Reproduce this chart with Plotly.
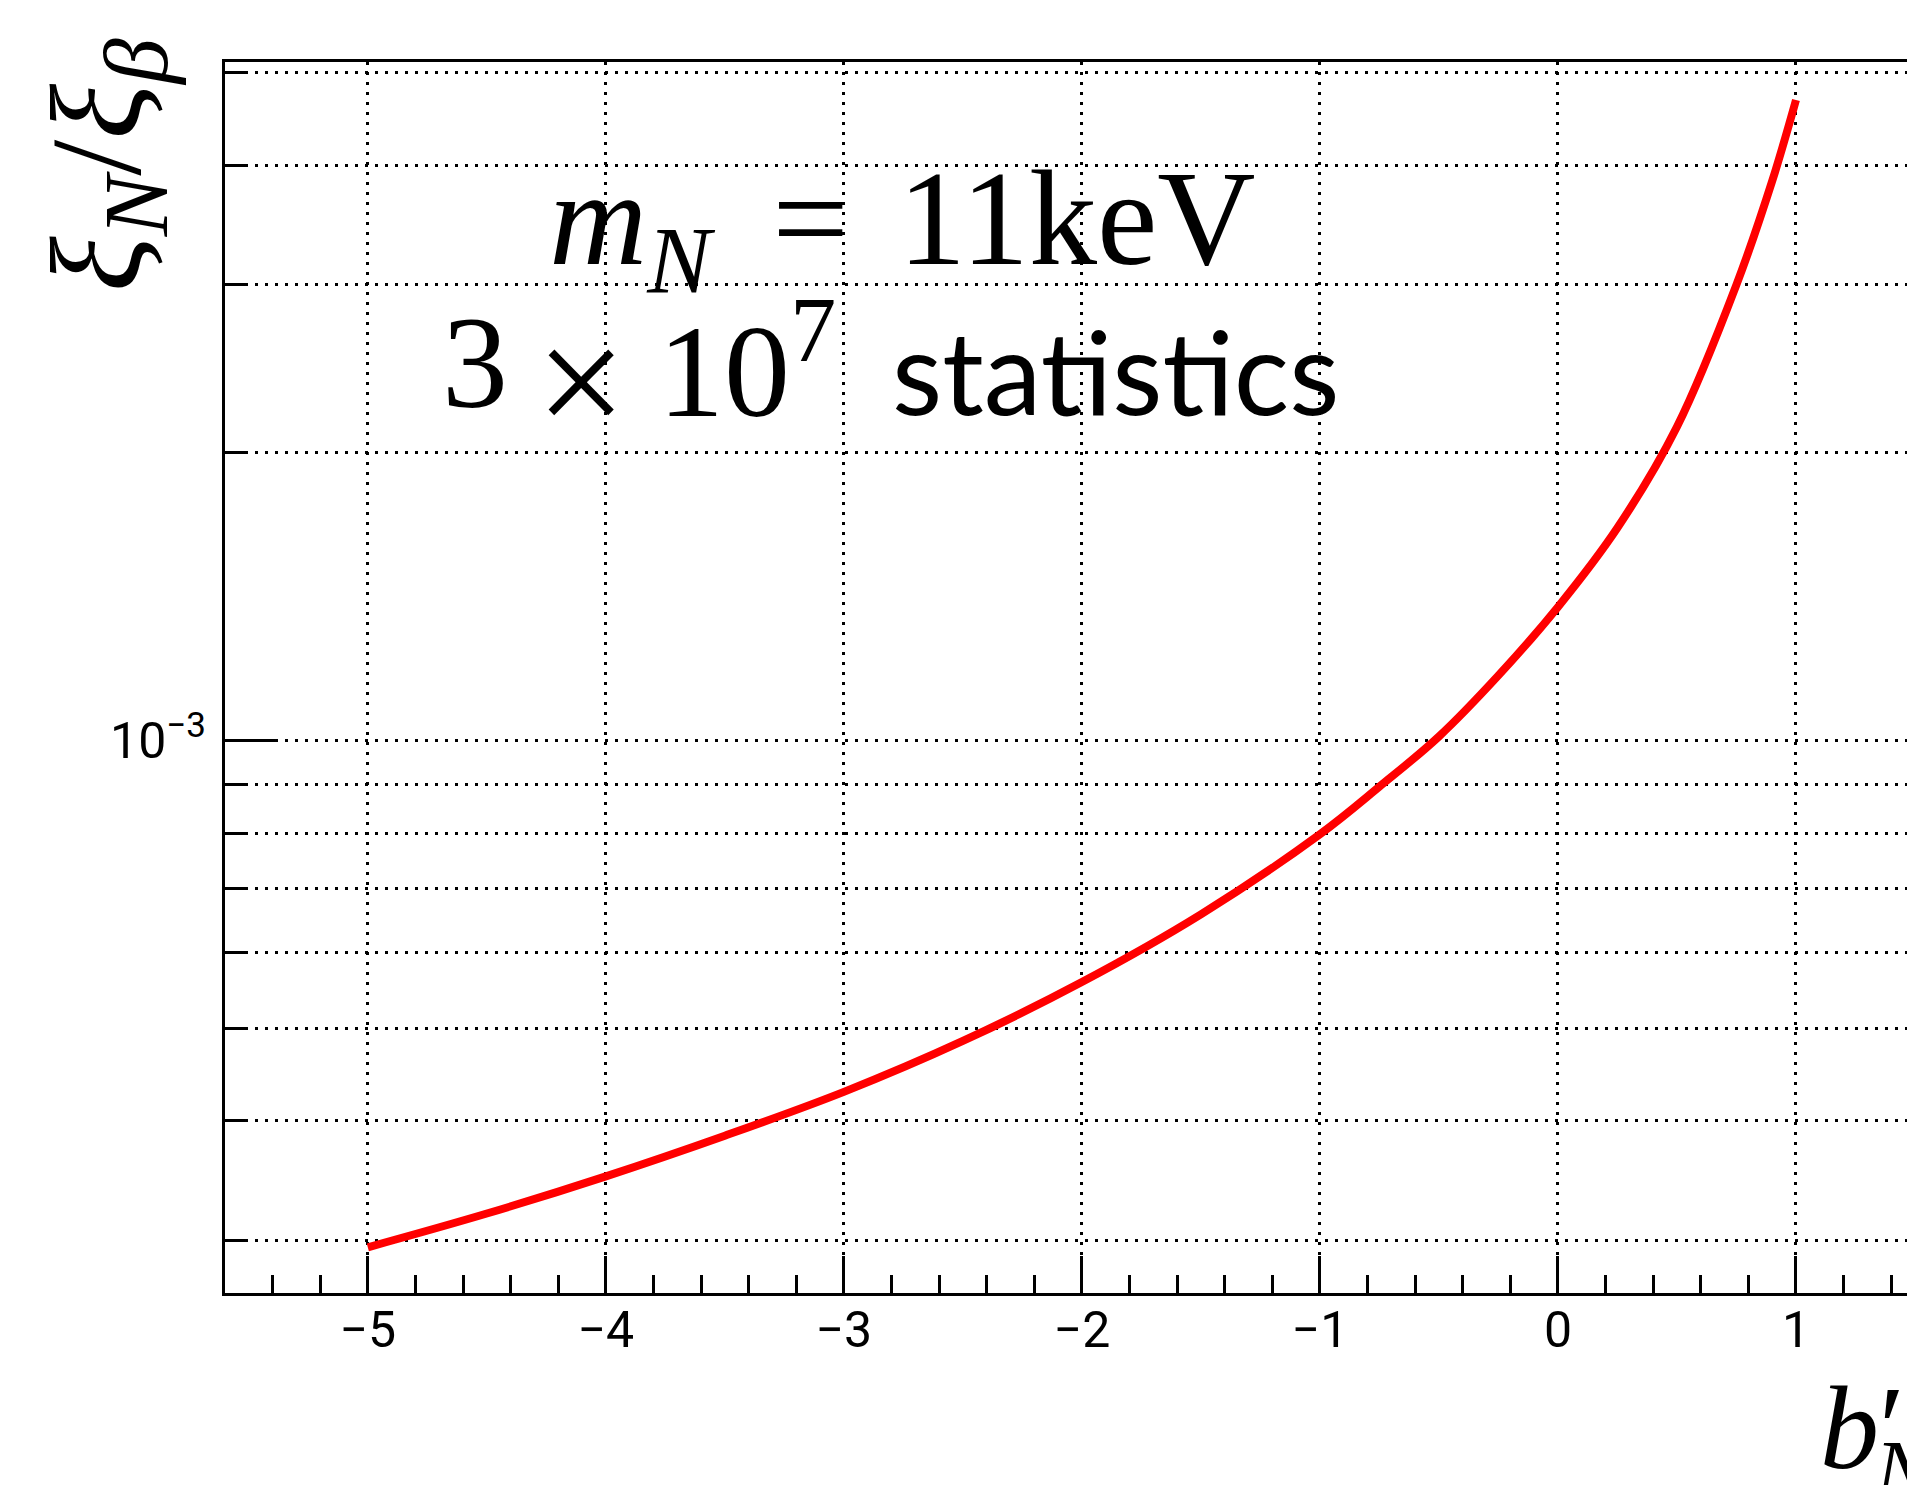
import plotly.graph_objects as go

# ---- data ----
b_prime = [-5.0, -4.5, -4.0, -3.5, -3.0, -2.5, -2.0, -1.5, -1.0, -0.75,
           -0.5, -0.25, 0.0, 0.25, 0.5, 0.75, 0.9, 1.0]
xi_ratio = [2.95e-4, 3.20e-4, 3.50e-4, 3.86e-4, 4.29e-4, 4.85e-4, 5.59e-4,
            6.58e-4, 7.98e-4, 8.95e-4, 1.01e-3, 1.17e-3, 1.38e-3, 1.67e-3,
            2.13e-3, 3.00e-3, 3.85e-3, 4.68e-3]

x_major_ticks = [-5, -4, -3, -2, -1, 0, 1]
y_major_ticks = [1e-3]
y_major_text = ["10<sup>\u22123</sup>"]
y_minor_ticks = [3e-4, 4e-4, 5e-4, 6e-4, 7e-4, 8e-4, 9e-4,
                 2e-3, 3e-3, 4e-3, 5e-3]

OFF = 8                      # default page (body) margin of the html page
PAGE_W, PAGE_H = 1915, 1485
W, H = PAGE_W - OFF, PAGE_H - OFF
PL, PT, PB = 225, 62, 1293   # plot-area edges in page pixels
L, T = PL - OFF, PT - OFF
R = 0
B = H - T - (PB - PT)
PW, PH = W - L - R, PB - PT


def fx(px):
    return (px - PL) / PW


def fy(py):
    return (PB - py) / PH


GRID = dict(gridcolor="black", gridwidth=2.5, griddash="3px,7px")

fig = go.Figure()
fig.add_trace(go.Scatter(
    x=b_prime, y=xi_ratio, mode="lines",
    line=dict(color="#ff0000", width=8, shape="spline"),
    showlegend=False, hoverinfo="skip",
))

fig.update_layout(
    width=W, height=H,
    margin=dict(l=L, r=R, t=T, b=B, pad=0),
    paper_bgcolor="white", plot_bgcolor="white",
    font=dict(family="Roboto, Liberation Sans, sans-serif", color="black", size=50),
    xaxis=dict(
        range=[-5.6, 1.5],
        tickmode="array", tickvals=x_major_ticks,
        ticks="inside", ticklen=37, tickwidth=2.5, tickcolor="black",
        showline=True, linecolor="black", linewidth=3, mirror=True,
        showgrid=True, **GRID,
        zeroline=False,
        tickfont=dict(size=50),
        ticklabelstandoff=-9,
        minor=dict(dtick=0.2, tick0=0, ticks="inside", ticklen=18,
                   tickwidth=2.5, tickcolor="black", showgrid=False),
    ),
    yaxis=dict(
        type="log",
        range=[-3.578, -2.290],
        tickmode="array", tickvals=y_major_ticks, ticktext=y_major_text,
        ticks="inside", ticklen=50, tickwidth=3, tickcolor="black",
        showline=True, linecolor="black", linewidth=3, mirror=False,
        showgrid=True, **GRID,
        zeroline=False,
        tickfont=dict(size=50),
        ticklabelstandoff=6,
        minor=dict(tickmode="array", tickvals=y_minor_ticks, ticks="inside",
                   ticklen=23, tickwidth=3, tickcolor="black",
                   showgrid=True, **GRID),
    ),
)

SERIF = "Liberation Serif, DejaVu Serif, serif"

annotations = [
    # y-axis title
    dict(text="<i>\u03be</i><sub><i>N</i></sub>/<i>\u03be</i><sub><i>\u03b2</i></sub>",
         x=fx(106), y=fy(165), textangle=-90,
         font=dict(family=SERIF, size=130)),
    # x-axis title (cut by the image edge)
    dict(text="<i>b</i>\u2032",
         x=fx(1818), y=fy(1428), xanchor="left",
         font=dict(family=SERIF, size=118)),
    dict(text="<i>N</i>",
         x=fx(1872), y=fy(1470), xanchor="left",
         font=dict(family=SERIF, size=84)),
    # text box, first line
    dict(text=("<i>m</i><sub><i>N</i></sub>\u00a0"
               "<span style=\"font-size:110px\">\u00a0</span>="
               "<span style=\"font-size:60px\">\u00a0</span>\u00a011keV"),
         x=fx(902), y=fy(229), font=dict(family=SERIF, size=136)),
    # text box, second line
    dict(text="3", x=fx(440), y=fy(362), xanchor="left",
         font=dict(family=SERIF, size=132)),
    dict(text="\u00d7", x=fx(581), y=fy(382),
         font=dict(family=SERIF, size=160)),
    dict(text="10<sup>7</sup>", x=fx(656), y=fy(362), xanchor="left",
         font=dict(family=SERIF, size=132)),
    dict(text="statistics",
         x=fx(890), y=fy(370), xanchor="left",
         font=dict(family="Lato, Open Sans, sans-serif", size=116)),
]
for a in annotations:
    a.update(xref="paper", yref="paper", showarrow=False,
             yanchor="middle", font_color="black")
    a.setdefault("xanchor", "center")
    fig.add_annotation(**a)

fig.write_html("out.html")
